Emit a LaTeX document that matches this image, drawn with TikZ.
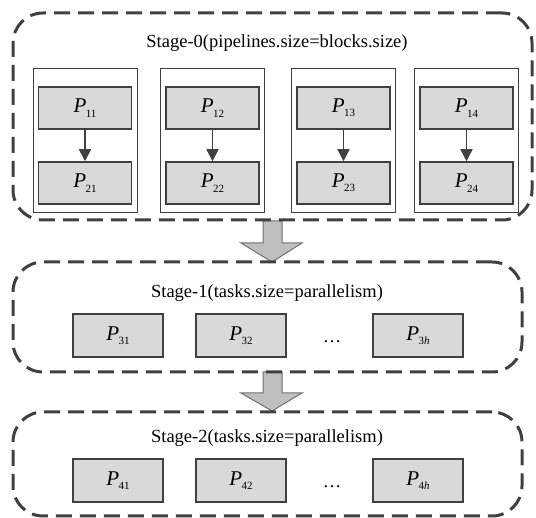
\documentclass[tikz,border=0pt]{standalone}
\usepackage{fontspec}
\setmainfont{Liberation Serif}
\usetikzlibrary{arrows.meta}
\definecolor{dashc}{HTML}{404040}
\definecolor{boxc}{HTML}{404040}
\definecolor{greyc}{HTML}{D9D9D9}
\definecolor{arrc}{HTML}{BFBFBF}
\definecolor{arrb}{HTML}{707070}
\newcommand\Plab[1]{\textit{P}\kern-0.5pt\raisebox{-0.45ex}{\fontsize{11}{11}\selectfont #1}}
\begin{document}
\begin{tikzpicture}[x=1pt,y=-1pt,
 stagebox/.style={draw=dashc, line width=3pt, dash pattern=on 16pt off 8pt, rounded corners=30pt, inner sep=0pt, outer sep=0pt},
 blockbox/.style={draw=boxc, line width=1pt, fill=white, minimum width=104pt, minimum height=144pt, inner sep=0pt},
 pbox/.style={draw=boxc, line width=1.5pt, fill=greyc, minimum width=93pt, minimum height=42pt, inner sep=0pt, font=\fontsize{21}{21}\selectfont},
 qbox/.style={pbox, minimum width=90pt, minimum height=43pt},
 title/.style={font=\fontsize{18.5}{18.5}\selectfont, inner sep=0pt},
 flow/.style={draw=boxc, line width=1.5pt, -{Triangle[width=12pt,length=12pt]}},
 bigarrow/.style={fill=arrc, draw=arrb, line width=1pt}]
\useasboundingbox (0,0) rectangle (536,518);

% big arrows
\draw[bigarrow] (263,221) -- (282,221) -- (282,243) -- (302,243) -- (272,262) -- (241,243) -- (263,243) -- cycle;
\draw[bigarrow] (263,372) -- (282,372) -- (282,393) -- (302,393) -- (272,411) -- (241,393) -- (263,393) -- cycle;

% stage 0
\node[stagebox, minimum width=519pt, minimum height=207pt] (s0) at (272.5,116.5) {};
\node[title] (t0) at (277,43) {Stage-0(pipelines.size=blocks.size)};
\foreach \i/\x in {1/85,2/212.5,3/343.5,4/466.5}{
  \node[blockbox] (b\i) at (\x,141) {};
  \node[pbox] (p1\i) at (\x,108) {\Plab{1\i}};
  \node[pbox] (p2\i) at (\x,183) {\Plab{2\i}};
  \draw[flow] (p1\i) -- (p2\i);
}

% stage 1
\node[stagebox, minimum width=509pt, minimum height=110pt] (s1) at (267.5,317) {};
\node[title] (t1) at (267,293) {Stage-1(tasks.size=parallelism)};
\node[qbox] (p31) at (118,335.5) {\Plab{31}};
\node[qbox] (p32) at (241,335.5) {\Plab{32}};
\node[qbox] (p3h) at (418,335.5) {\Plab{3\textit{h}}};
\node[title] (d1) at (332,342) {\ldots};

% stage 2
\node[stagebox, minimum width=509pt, minimum height=104pt] (s2) at (267.5,464) {};
\node[title] (t2) at (267,438) {Stage-2(tasks.size=parallelism)};
\node[qbox] (p41) at (118,480.5) {\Plab{41}};
\node[qbox] (p42) at (241,480.5) {\Plab{42}};
\node[qbox] (p4h) at (418,480.5) {\Plab{4\textit{h}}};
\node[title] (d2) at (332,487) {\ldots};
\end{tikzpicture}
\end{document}
